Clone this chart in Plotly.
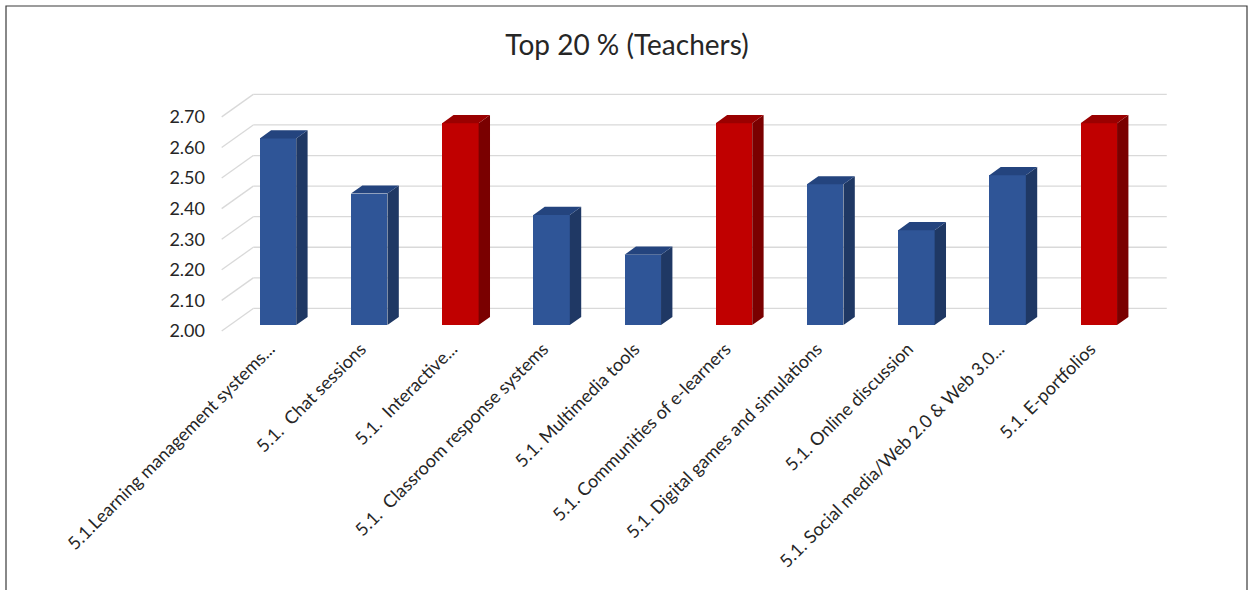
import plotly.graph_objects as go

# ---- data ----
categories = [
    "5.1.Learning management systems...",
    "5.1.\u00a0 Chat sessions",
    "5.1.\u00a0 Interactive...",
    "5.1.\u00a0 Classroom response systems",
    "5.1. Multimedia tools",
    "5.1. Communities of e-learners",
    "5.1. Digital games and simulations",
    "5.1. Online discussion",
    "5.1. Social media/Web 2.0 & Web 3.0...",
    "5.1. E-portfolios",
]
values = [2.61, 2.43, 2.66, 2.36, 2.23, 2.66, 2.46, 2.31, 2.49, 2.66]
highlight = [False, False, True, False, False, True, False, False, False, True]
y_ticks = [2.00, 2.10, 2.20, 2.30, 2.40, 2.50, 2.60, 2.70]
title_text = "Top 20 % (Teachers)"

# ---- style / geometry ----
W, H = 1254, 590
ML, MR, MT, MB = 210, 79, 71, 256
X_RANGE = [-0.654, 9.927]
Y_RANGE = [1.99, 2.85]
BASE = 2.0
DX, DY = 0.3465, 0.0736        # oblique depth offset (full depth) in data units
FLOOR_L, FLOOR_R = -0.526, 9.49
F = 0.264                       # depth of bar front face
T = 0.36                        # bar thickness (depth)
HW = 0.2                        # bar half width

BLUE = dict(front="#2F5597", side="#1F3864", top="#24447E")
RED = dict(front="#C00000", side="#7A0000", top="#9A0000")
GRID = "#D9D9D9"
FONT = "Lato, Carlito, 'Open Sans', sans-serif"
TXT = "#262626"

n = len(values)
xpos = list(range(n))
xc = [i + F * DX for i in xpos]
yb = BASE + F * DY

fig = go.Figure()

# front faces as bars
fig.add_trace(go.Bar(
    x=xc, y=[v - BASE for v in values], base=[yb] * n, width=2 * HW,
    marker=dict(color=[RED["front"] if h else BLUE["front"] for h in highlight], line=dict(width=0)),
    hoverinfo="skip", showlegend=False,
))

# side and top faces
for hl, pal in ((False, BLUE), (True, RED)):
    sx, sy, tx, ty = [], [], [], []
    for x, v, h in zip(xc, values, highlight):
        if h != hl:
            continue
        xl, xr = x - HW, x + HW
        yt = v + F * DY
        sx += [xr, xr, xr + T * DX, xr + T * DX, xr, None]
        sy += [yb, yt, yt + T * DY, yb + T * DY, yb, None]
        tx += [xl, xr, xr + T * DX, xl + T * DX, xl, None]
        ty += [yt, yt, yt + T * DY, yt + T * DY, yt, None]
    fig.add_trace(go.Scatter(x=sx, y=sy, mode="lines", fill="toself", fillcolor=pal["side"],
                             line=dict(width=0, color=pal["side"]), hoverinfo="skip", showlegend=False))
    fig.add_trace(go.Scatter(x=tx, y=ty, mode="lines", fill="toself", fillcolor=pal["top"],
                             line=dict(width=0, color=pal["top"]), hoverinfo="skip", showlegend=False))

# back wall + side wall gridlines (below traces)
shapes = []
for v in y_ticks:
    shapes.append(dict(type="line", xref="x", yref="y", layer="below",
                       x0=FLOOR_L + DX, x1=FLOOR_R + DX, y0=v + DY, y1=v + DY,
                       line=dict(color=GRID, width=1.3)))
    shapes.append(dict(type="line", xref="x", yref="y", layer="below",
                       x0=FLOOR_L, x1=FLOOR_L + DX, y0=v, y1=v + DY,
                       line=dict(color=GRID, width=1.3)))

# outer frame
pw, ph = W - ML - MR, H - MT - MB
shapes.append(dict(type="rect", xref="paper", yref="paper", layer="above",
                   x0=(6 - ML) / pw, x1=(1247 - ML) / pw,
                   y0=-(H + 5 - (H - MB)) / ph, y1=(H - 6 - MB) / ph,
                   line=dict(color="#3A3A3A", width=1.2), fillcolor="rgba(0,0,0,0)"))

fig.update_layout(
    width=W, height=H,
    margin=dict(l=ML, r=MR, t=MT, b=MB),
    paper_bgcolor="white", plot_bgcolor="white",
    font=dict(family=FONT, color=TXT),
    title=dict(text=title_text, x=0.5, xanchor="center", xref="container",
               y=1 - 45 / H, yref="container", yanchor="middle",
               font=dict(size=28, color=TXT, family=FONT)),
    shapes=shapes,
    showlegend=False,
    bargap=0,
)
fig.update_xaxes(range=X_RANGE, showgrid=False, zeroline=False, showline=False,
                 tickmode="array", tickvals=xpos, ticktext=categories, tickangle=-45,
                 ticks="", tickfont=dict(size=18, color=TXT, family=FONT), fixedrange=True)
fig.update_yaxes(range=Y_RANGE, showgrid=False, zeroline=False, showline=False,
                 tickmode="array", tickvals=y_ticks, ticktext=[f"{v:.2f}" for v in y_ticks],
                 ticks="", ticklabelstandoff=4,
                 tickfont=dict(size=18, color=TXT, family=FONT), fixedrange=True)

fig.write_html("out.html", config={"displayModeBar": False},
               post_script="document.body.style.margin='0';")
